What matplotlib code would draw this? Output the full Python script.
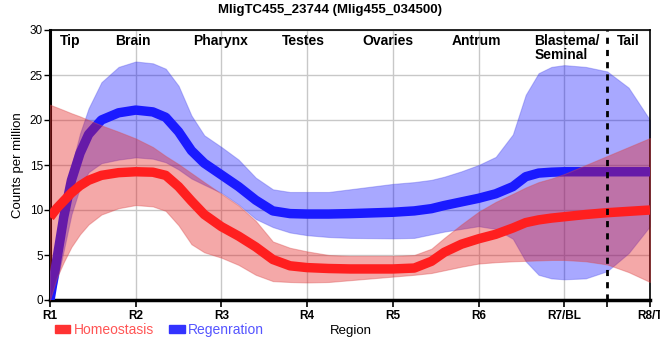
import matplotlib
matplotlib.use("Agg")
import matplotlib.pyplot as plt
from matplotlib.patches import Patch

plt.rcParams['font.family'] = ['Liberation Sans', 'DejaVu Sans']

# ---- data (x in region index units: 0 = R1 ... 7 = R8/T) ----
xs = [0, 0.08, 0.16, 0.25, 0.35, 0.45, 0.6, 0.8, 1.0, 1.2, 1.35, 1.5, 1.65, 1.8,
      2.0, 2.2, 2.4, 2.6, 2.8, 3.0, 3.25, 3.5, 4.0, 4.25, 4.45, 4.6, 4.8, 5.0,
      5.2, 5.4, 5.55, 5.7, 5.85, 6.0, 6.25, 6.5, 6.75, 7.0]

hom_mean = [9.2, 10.2, 11.0, 11.9, 12.7, 13.3, 13.85, 14.15, 14.25, 14.2, 13.85, 12.6, 11.0, 9.5,
            8.15, 7.1, 5.9, 4.5, 3.8, 3.6, 3.5, 3.45, 3.45, 3.55, 4.3, 5.3, 6.2, 6.8,
            7.3, 8.0, 8.6, 8.9, 9.1, 9.25, 9.5, 9.7, 9.85, 10.0]
hom_low = [0.0, 2.5, 4.2, 5.9, 7.3, 8.4, 9.5, 10.2, 10.55, 10.4, 9.9, 8.3, 6.2, 5.3,
           4.7, 3.9, 2.8, 2.1, 2.0, 1.95, 2.0, 2.2, 2.6, 2.8, 3.0, 3.3, 3.7, 4.05,
           4.2, 4.3, 4.35, 4.4, 4.45, 4.45, 4.3, 3.95, 3.1, 2.0]
hom_high = [21.7, 21.4, 21.1, 20.75, 20.4, 20.0, 19.4, 18.7, 17.95, 17.0, 16.0, 15.1, 14.1, 13.1,
            11.8, 10.5, 8.8, 6.5, 5.8, 5.4, 5.0, 4.9, 4.9, 5.0, 5.7, 6.9, 8.4, 9.8,
            10.9, 11.8, 12.5, 13.1, 13.5, 14.0, 15.0, 16.0, 17.0, 18.0]

reg_mean = [0.0, 4.5, 9.2, 13.3, 16.3, 18.4, 20.0, 20.8, 21.1, 20.9, 20.3, 18.7, 16.6, 15.2,
            13.9, 12.6, 11.1, 9.9, 9.6, 9.55, 9.55, 9.6, 9.75, 9.9, 10.15, 10.5, 10.9, 11.3,
            11.8, 12.6, 13.7, 14.1, 14.2, 14.25, 14.25, 14.25, 14.25, 14.25]
reg_low = [0.0, 2.0, 5.5, 9.5, 12.5, 14.2, 15.2, 15.6, 15.85, 15.7, 15.3, 14.5, 13.5, 12.8,
           11.9, 10.6, 9.0, 8.1, 7.5, 7.2, 7.0, 6.9, 6.85, 6.9, 7.3, 7.6, 7.9, 8.2,
           7.9, 6.8, 4.3, 2.8, 2.4, 2.3, 2.4, 3.2, 5.2, 8.2]
reg_high = [0.3, 5.5, 10.5, 14.8, 18.5, 21.3, 24.2, 25.9, 26.5, 26.3, 25.7, 23.8, 20.5, 18.3,
            17.0, 15.6, 13.6, 12.3, 12.0, 12.0, 12.0, 12.3, 12.9, 13.1, 13.35, 13.7, 14.3, 15.0,
            15.9, 18.4, 22.8, 25.2, 25.9, 26.1, 25.9, 25.4, 23.6, 20.0]

tick_pos = [0, 1, 2, 3, 4, 5, 6, 7]
tick_labels = ["R1", "R2", "R3", "R4", "R5", "R6", "R7/BL", "R8/T"]
region_names = ["Tip", "Brain", "Pharynx", "Testes", "Ovaries", "Antrum", "Blastema/\nSeminal", "Tail"]
region_pos = [0.23, 0.97, 1.99, 2.96, 3.94, 4.98, 5.65, 6.75]
region_ha = ["center", "center", "center", "center", "center", "center", "left", "center"]
boundary_x = 6.5
series_names = ["Homeostasis", "Regenration"]

# ---- figure ----
fig = plt.figure(figsize=(6.6, 3.6), dpi=100)
ax = fig.add_axes([50/660, 1-300/360, 600/660, 270/360])

blue = '#1a1aff'
red = '#ff1f1f'

ax.fill_between(xs, reg_low, reg_high, color='#0000ff', alpha=0.34, lw=0.8,
                edgecolor=(0.3, 0.3, 0.9, 0.5), zorder=2)
ax.plot(xs, reg_mean, color=blue, lw=6.8, solid_capstyle='butt', solid_joinstyle='round', zorder=3)
ax.fill_between(xs, hom_low, hom_high, color='#e41a1c', alpha=0.38, lw=0.8,
                edgecolor=(0.85, 0.3, 0.3, 0.5), zorder=4)
ax.plot(xs, hom_mean, color=red, lw=6.8, solid_capstyle='butt', solid_joinstyle='round', zorder=5)

ax.axvline(boundary_x, color='black', lw=2, linestyle=(0, (2.2, 2.2)), zorder=6)

ax.set_xlim(0, 7)
ax.set_ylim(0, 30)
ax.set_xticks(tick_pos)
ax.set_xticklabels(tick_labels, fontsize=8.5, fontweight='bold')
ax.set_xticks([boundary_x], minor=True)
ax.set_yticks([0, 5, 10, 15, 20, 25, 30])
ax.tick_params(axis='y', labelsize=8.5, length=4, width=1, pad=1)
ax.tick_params(axis='x', which='both', length=5, width=1.2, pad=2)
ax.grid(True, color='#c8c8c8', lw=1, zorder=0)
ax.set_axisbelow(True)

for s in ['top', 'right']:
    ax.spines[s].set_linewidth(1.2)
ax.spines['left'].set_linewidth(2.2)
ax.spines['bottom'].set_linewidth(2.5)

for name, xp, ha in zip(region_names, region_pos, region_ha):
    ax.text(xp, 29.6, name, ha=ha, va='top', fontsize=10, fontweight='bold',
            linespacing=1.0, zorder=7)

ax.set_ylabel("Counts per million", fontsize=9.5, labelpad=4)
fig.text(351/660, 1-331/360, "Region", ha='center', va='center', fontsize=9.5)
fig.suptitle("MligTC455_23744 (Mlig455_034500)", x=0.5, y=1-10/360, va='center',
             fontsize=9.5, fontweight='bold')

handles = [Patch(color='#ff3333'), Patch(color='#3333ff')]
fig.legend(handles, series_names, loc='center left',
           bbox_to_anchor=(55/660, 1-330/360), ncol=2, frameon=False,
           handlelength=1.1, handleheight=0.55, handletextpad=0.25, columnspacing=1.1,
           fontsize=10, labelcolor=['#ff5555', '#5555ff'], borderaxespad=0, borderpad=0)

fig.savefig("out.png", dpi=100)
